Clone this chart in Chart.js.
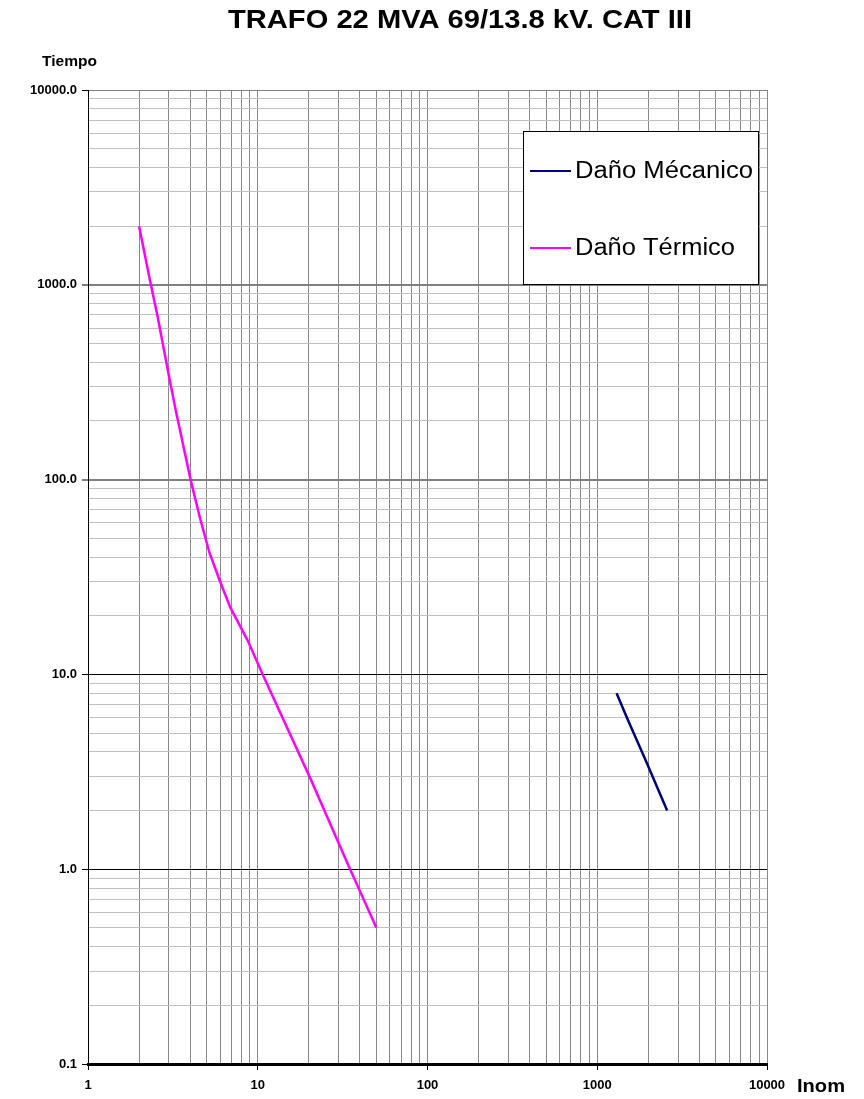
<!DOCTYPE html>
<html>
<head>
<meta charset="utf-8">
<script src="https://cdn.jsdelivr.net/npm/chart.js@4/dist/chart.umd.min.js"></script>
<style>
html,body{margin:0;padding:0;background:#fff;}
canvas{display:block;}
</style>
</head>
<body>
<canvas id="c" width="864" height="1099"></canvas>
<script>
// ---- data ----
const chartTitle = 'TRAFO 22 MVA 69/13.8 kV. CAT III';
const yAxisName = 'Tiempo';
const xAxisName = 'Inom';
const seriesNames = ['Daño Mécanico', 'Daño Térmico'];
const seriesColors = ['#000080', '#FF00FF'];

const termicoX = [2, 2.32, 2.56, 3.04, 3.29, 4.02, 4.6, 5.2, 6.0, 6.9, 8.7, 10.7, 20.5, 35, 50];
const termicoY = [2000, 1050, 700, 320, 226, 100, 62, 42, 30, 22, 15, 10, 2.9, 1, 0.5];

const mecanicoX = [1300, 1507, 1933, 2580];
const mecanicoY = [8, 5.9, 3.6, 2];

const xDecades = [1, 10, 100, 1000, 10000];
const xTickLabels = ['1', '10', '100', '1000', '10000'];
const yDecades = [0.1, 1, 10, 100, 1000, 10000];
const yTickLabels = ['0.1', '1.0', '10.0', '100.0', '1000.0', '10000.0'];
const minorSteps = [1, 2, 3, 4, 5, 6, 7, 8, 9];

// ---- helpers ----
function gridValues(decades) {
  const out = [];
  for (let i = 0; i < decades.length; i++) {
    if (i === decades.length - 1) { out.push(decades[i]); break; }
    for (const m of minorSteps) out.push(+(decades[i] * m).toPrecision(6));
  }
  return out;
}
function isDecade(decades, v) {
  return decades.some(d => Math.abs(d - v) / d < 1e-6);
}
function near(a, b) { return Math.abs(a - b) / b < 1e-6; }
function labelFor(decades, labels, v) {
  const i = decades.findIndex(d => near(v, d));
  return i >= 0 ? labels[i] : '';
}
function pts(xs, ys) { return xs.map((x, i) => ({ x: x, y: ys[i] })); }

function fitText(ctx, text, x, y, font, width, align) {
  ctx.save();
  ctx.font = font;
  const w = ctx.measureText(text).width;
  const s = width ? width / w : 1;
  ctx.translate(x, y);
  ctx.scale(s, 1);
  ctx.textBaseline = 'middle';
  ctx.textAlign = 'left';
  const x0 = align === 'left' ? 0 : (align === 'right' ? -w : -w / 2);
  ctx.fillText(text, x0, 0);
  ctx.restore();
}

const xGrid = gridValues(xDecades);
const yGrid = gridValues(yDecades);

const decor = {
  id: 'decor',
  afterDraw(chart) {
    const ctx = chart.ctx;
    ctx.save();
    ctx.fillStyle = '#000';
    fitText(ctx, chartTitle, 460, 21, 'bold 25px "Liberation Sans", Arial, sans-serif', 464, 'center');
    fitText(ctx, yAxisName, 42, 62, 'bold 15px "Liberation Sans", Arial, sans-serif', 55, 'left');
    fitText(ctx, xAxisName, 797, 1087, 'bold 19px "Liberation Sans", Arial, sans-serif', 48, 'left');

    // legend box
    const bx = 523, by = 131, bw = 235, bh = 153;
    ctx.fillStyle = '#fff';
    ctx.fillRect(bx, by, bw, bh);
    ctx.strokeStyle = '#000';
    ctx.lineWidth = 1;
    ctx.strokeRect(bx + 0.5, by + 0.5, bw, bh);
    const rows = [171, 248];
    const widths = [178, 160];
    for (let i = 0; i < seriesNames.length; i++) {
      ctx.strokeStyle = seriesColors[i];
      ctx.lineWidth = 2;
      ctx.beginPath();
      ctx.moveTo(530, rows[i]);
      ctx.lineTo(571, rows[i]);
      ctx.stroke();
      ctx.fillStyle = '#000';
      fitText(ctx, seriesNames[i], 575, rows[i] + 1, '23px "Liberation Sans", Arial, sans-serif', widths[i], 'left');
    }
    ctx.restore();
  }
};

new Chart(document.getElementById('c'), {
  type: 'scatter',
  data: {
    datasets: [
      {
        label: seriesNames[0],
        data: pts(mecanicoX, mecanicoY),
        showLine: true,
        borderColor: seriesColors[0],
        backgroundColor: seriesColors[0],
        borderWidth: 2.5,
        pointRadius: 0,
        tension: 0
      },
      {
        label: seriesNames[1],
        data: pts(termicoX, termicoY),
        showLine: true,
        borderColor: seriesColors[1],
        backgroundColor: seriesColors[1],
        borderWidth: 2.5,
        pointRadius: 0,
        tension: 0
      }
    ]
  },
  options: {
    responsive: false,
    animation: false,
    devicePixelRatio: 1,
    layout: { padding: { top: 90, right: 97, left: 0, bottom: 0 } },
    plugins: {
      legend: { display: false },
      title: { display: false },
      tooltip: { enabled: false }
    },
    scales: {
      x: {
        type: 'logarithmic',
        min: 1,
        max: 10000,
        afterBuildTicks(s) { s.ticks = xGrid.map(v => ({ value: v })); },
        afterFit(s) { s.height = 35; },
        border: { color: '#000', width: 3 },
        grid: {
          color: '#888888',
          lineWidth: 1,
          tickLength: 6,
          tickColor: c => (c.tick && isDecade(xDecades, c.tick.value)) ? '#000' : 'rgba(0,0,0,0)'
        },
        ticks: {
          autoSkip: false,
          maxRotation: 0,
          padding: 8,
          color: '#000',
          font: { family: '"Liberation Sans", Arial, sans-serif', size: 13, weight: 'bold' },
          callback: v => labelFor(xDecades, xTickLabels, v)
        }
      },
      y: {
        type: 'logarithmic',
        min: 0.1,
        max: 10000,
        afterBuildTicks(s) { s.ticks = yGrid.map(v => ({ value: v })); },
        afterFit(s) { s.width = 88; },
        border: { color: '#000', width: 1 },
        grid: {
          tickLength: 6,
          color: c => {
            const v = c.tick ? c.tick.value : 0;
            if (!isDecade(yDecades, v)) return '#c0c0c0';
            if (near(v, 1) || near(v, 10) || near(v, 0.1)) return '#000';
            return '#808080';
          },
          lineWidth: c => {
            const v = c.tick ? c.tick.value : 0;
            return (near(v, 100) || near(v, 1000)) ? 2 : 1;
          },
          tickColor: c => (c.tick && isDecade(yDecades, c.tick.value)) ? '#000' : 'rgba(0,0,0,0)',
          tickWidth: 1
        },
        ticks: {
          autoSkip: false,
          padding: 5,
          color: '#000',
          font: { family: '"Liberation Sans", Arial, sans-serif', size: 13, weight: 'bold' },
          callback: v => labelFor(yDecades, yTickLabels, v)
        }
      }
    }
  },
  plugins: [decor]
});
</script>
</body>
</html>
